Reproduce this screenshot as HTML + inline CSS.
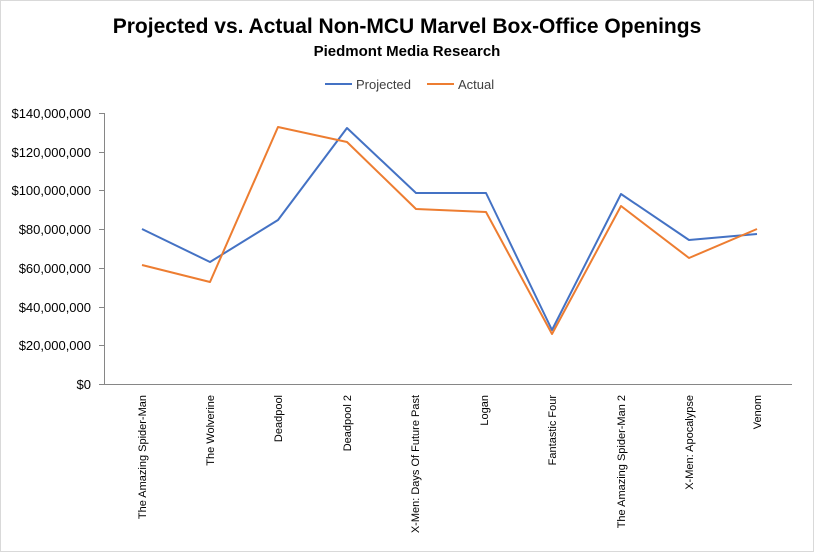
<!DOCTYPE html>
<html><head><meta charset="utf-8"><style>
body{margin:0;background:#fff;}
svg{display:block;font-family:"Liberation Sans",Calibri,sans-serif;}
</style></head><body>
<svg width="814" height="552" viewBox="0 0 814 552" xmlns="http://www.w3.org/2000/svg">
<rect x="0.5" y="0.5" width="813" height="551" fill="#fff" stroke="#d9d9d9"/>
<text x="407" y="33" text-anchor="middle" font-size="21" font-weight="bold" fill="#000">Projected vs. Actual Non-MCU Marvel Box-Office Openings</text>
<text x="407" y="56" text-anchor="middle" font-size="15" font-weight="bold" fill="#000">Piedmont Media Research</text>
<line x1="325" y1="84" x2="352" y2="84" stroke="#4472c4" stroke-width="2"/>
<text x="356" y="89" font-size="13" fill="#404040">Projected</text>
<line x1="427" y1="84" x2="454" y2="84" stroke="#ed7d31" stroke-width="2"/>
<text x="458" y="89" font-size="13" fill="#404040">Actual</text>
<g font-size="13" fill="#000" text-anchor="end">
<text x="91" y="389">$0</text>
<text x="91" y="350">$20,000,000</text>
<text x="91" y="312">$40,000,000</text>
<text x="91" y="273">$60,000,000</text>
<text x="91" y="234">$80,000,000</text>
<text x="91" y="195">$100,000,000</text>
<text x="91" y="157">$120,000,000</text>
<text x="91" y="118">$140,000,000</text>
</g>
<g stroke="#868686" stroke-width="1">
<line x1="99" y1="384.5" x2="104" y2="384.5"/>
<line x1="99" y1="345.5" x2="104" y2="345.5"/>
<line x1="99" y1="307.5" x2="104" y2="307.5"/>
<line x1="99" y1="268.5" x2="104" y2="268.5"/>
<line x1="99" y1="229.5" x2="104" y2="229.5"/>
<line x1="99" y1="190.5" x2="104" y2="190.5"/>
<line x1="99" y1="152.5" x2="104" y2="152.5"/>
<line x1="99" y1="113.5" x2="104" y2="113.5"/>
<line x1="104.5" y1="113" x2="104.5" y2="384"/>
<line x1="104" y1="384.5" x2="792" y2="384.5"/>
</g>
<polyline fill="none" stroke="#4472c4" stroke-width="2" stroke-linejoin="round" points="142,229 210,262 278,220 347,128 416,193 486,193 552,330 621,194 689,240 757,234"/>
<polyline fill="none" stroke="#ed7d31" stroke-width="2" stroke-linejoin="round" points="142,265 210,282 278,127 347,142 416,209 486,212 552,334 621,206 689,258 757,229"/>
<g font-size="11" fill="#000" text-anchor="end">
<text transform="translate(146,395) rotate(-90)">The Amazing Spider-Man</text>
<text transform="translate(214,395) rotate(-90)">The Wolverine</text>
<text transform="translate(282,395) rotate(-90)">Deadpool</text>
<text transform="translate(351,395) rotate(-90)">Deadpool 2</text>
<text transform="translate(419,395) rotate(-90)">X-Men: Days Of Future Past</text>
<text transform="translate(488,395) rotate(-90)">Logan</text>
<text transform="translate(556,395) rotate(-90)">Fantastic Four</text>
<text transform="translate(625,395) rotate(-90)">The Amazing Spider-Man 2</text>
<text transform="translate(693,395) rotate(-90)">X-Men: Apocalypse</text>
<text transform="translate(761,395) rotate(-90)">Venom</text>
</g>
</svg>
</body></html>
